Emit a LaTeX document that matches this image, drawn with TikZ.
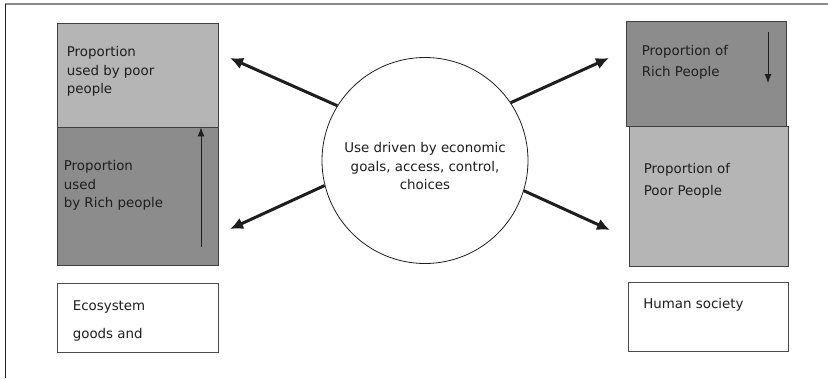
\documentclass[tikz,border=0pt]{standalone}
\usepackage{fontspec}
\setmainfont{DejaVu Sans}
\usetikzlibrary{arrows.meta,positioning}
\definecolor{sharelight}{HTML}{B5B5B5}
\definecolor{sharedark}{HTML}{8C8C8C}
\definecolor{rimgray}{HTML}{8A8A8A}
\definecolor{inkgray}{HTML}{1E1E1E}

\begin{document}
\begin{tikzpicture}[
  x=1pt, y=-1pt,
  font=\fontsize{13.4}{18.5}\selectfont,
  share/.style={draw=inkgray!85, line width=0.8pt, inner sep=0pt},
  light/.style={share, fill=sharelight},
  dark/.style={share, fill=sharedark},
  caption/.style={draw=inkgray!80, line width=0.8pt, fill=white, minimum width=160pt, minimum height=69pt, inner sep=0pt},
  txt/.style={anchor=north west, align=left, inner sep=0pt, text=inkgray},
  flow/.style={-{Latex[length=13pt,width=12pt]}, line width=3pt, draw=inkgray},
  trend/.style={-{Latex[length=9pt,width=7pt]}, line width=0.9pt, draw=inkgray}
]
\useasboundingbox (0,0) rectangle (828,378);

% frame
\draw[rimgray, line width=1.5pt] (5,4) -- (828,4);
\draw[inkgray, line width=1pt] (5,4) -- (5,378);

% ecosystem side
\node[light, minimum width=161pt, minimum height=104pt] (ecoPoor) at (137.5,75) {};
\node[dark, minimum width=161pt, minimum height=138pt, below=0pt of ecoPoor] (ecoRich) {};
\node[caption, minimum width=161pt, below=17pt of ecoRich] (ecosystem) {};
\node[txt, below right=24pt and 10pt of ecoPoor.north west] (ecoPoorText) {Proportion\\used by poor\\people};
\node[txt, below right=33pt and 7pt of ecoRich.north west] (ecoRichText) {Proportion\\used\\by Rich people};
\node[txt, below right=17.5pt and 16pt of ecosystem.north west] (ecosystemText) {Ecosystem\\[9.5pt]goods and};

% society side
\node[dark, minimum width=160pt, minimum height=105pt] (socRich) at (706,73.5) {};
\node[light, minimum width=159pt, minimum height=140pt] (socPoor) at (708.5,196) {};
\node[caption, below=16pt of socPoor] (society) {};
\node[txt, below right=24.5pt and 16pt of socRich.north west] (socRichText) {Proportion of\\[2.5pt]Rich People};
\node[txt, below right=38pt and 15pt of socPoor.north west] (socPoorText) {Proportion of\\[3.5pt]Poor People};
\node[txt, below right=16pt and 15pt of society.north west] (societyText) {Human society};

% drivers
\node[circle, draw=inkgray, line width=0.8pt, minimum size=206pt, inner sep=0pt] (use) at (425,160.5) {};
\node[align=center, text=inkgray, inner sep=0pt] (useText) at (425,166.5) {Use driven by economic\\goals, access, control,\\choices};

\coordinate (tipEcoPoor) at (230,58);
\coordinate (tipEcoRich) at (230,229);
\coordinate (tipSocRich) at (609,58);
\coordinate (tipSocPoor) at (610,230);
\draw[flow] (use.148) -- (tipEcoPoor);
\draw[flow] (use.194) -- (tipEcoRich);
\draw[flow] (use.34) -- (tipSocRich);
\draw[flow] (use.343) -- (tipSocPoor);

% shifts in share
\coordinate (riseFoot) at (201,247);
\draw[trend] (riseFoot) -- (riseFoot |- ecoRich.north);
\coordinate (fallTop) at (768,32);
\coordinate (fallEnd) at (768,83);
\draw[trend] (fallTop) -- (fallEnd);
\end{tikzpicture}
\end{document}
